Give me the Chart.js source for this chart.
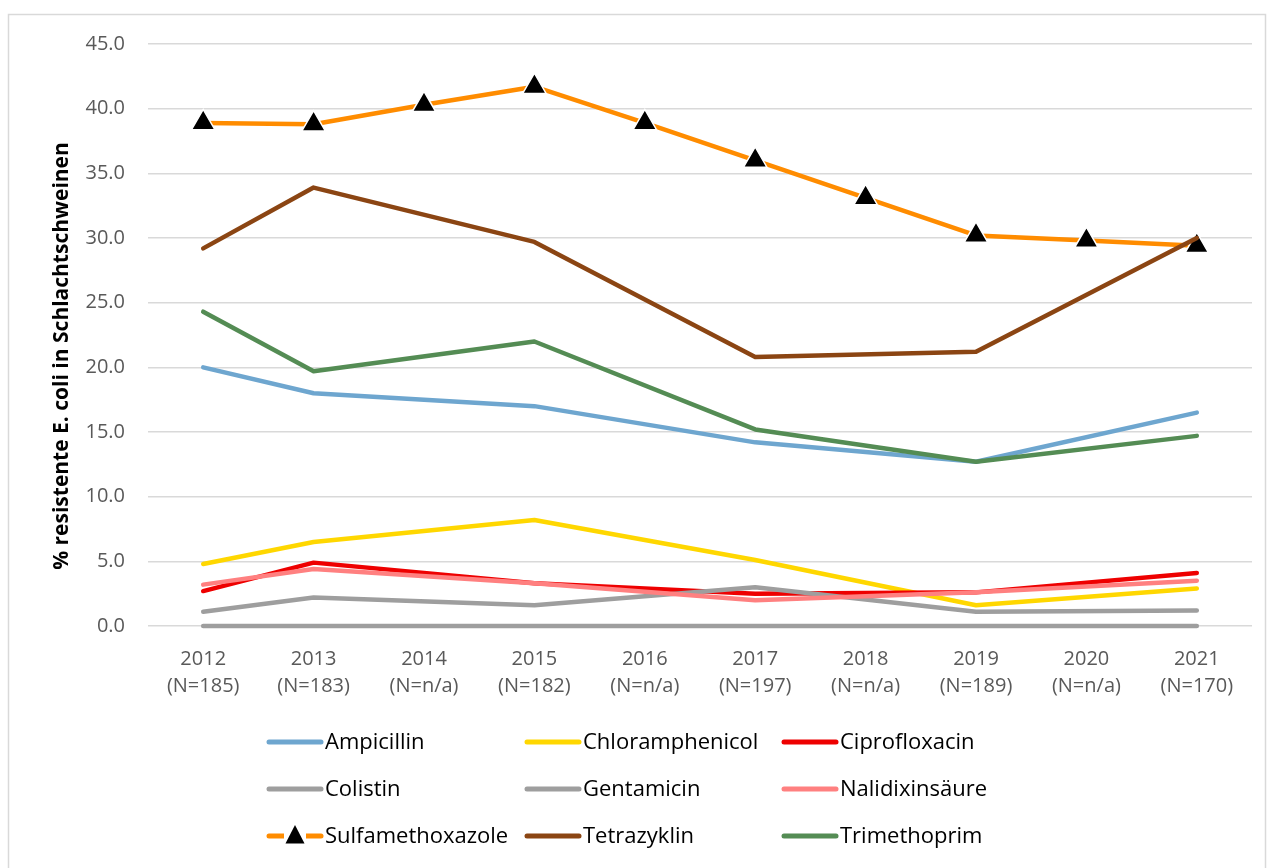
<!DOCTYPE html>
<html>
<head>
<meta charset="utf-8">
<script src="https://cdn.jsdelivr.net/npm/chart.js@4.4.1/dist/chart.umd.min.js"></script>
<style>
  html, body { margin: 0; padding: 0; background: #fff; }
  #wrap { position: relative; width: 1273px; height: 868px; }
  canvas { display: block; }
</style>
</head>
<body>
<div id="wrap"><canvas id="c" width="1273" height="868"></canvas></div>
<script>
// ---- Data ----
const years = ['2012', '2013', '2014', '2015', '2016', '2017', '2018', '2019', '2020', '2021'];
const sampleSizes = ['(N=185)', '(N=183)', '(N=n/a)', '(N=182)', '(N=n/a)', '(N=197)', '(N=n/a)', '(N=189)', '(N=n/a)', '(N=170)'];
const yTicks = [0, 5, 10, 15, 20, 25, 30, 35, 40, 45];
const yAxisTitle = '% resistente E. coli in Schlachtschweinen';

const seriesNames = ['Ampicillin', 'Chloramphenicol', 'Ciprofloxacin', 'Colistin', 'Gentamicin', 'Nalidixinsäure', 'Sulfamethoxazole', 'Tetrazyklin', 'Trimethoprim'];
const ampicillin      = [20.0, 18.0, null, 17.0, null, 14.2, null, 12.7, null, 16.5];
const chloramphenicol = [4.8, 6.5, null, 8.2, null, 5.1, null, 1.6, null, 2.9];
const ciprofloxacin   = [2.7, 4.9, null, 3.3, null, 2.5, null, 2.6, null, 4.1];
const colistin        = [0, 0, null, 0, null, 0, null, 0, null, 0];
const gentamicin      = [1.1, 2.2, null, 1.6, null, 3.0, null, 1.1, null, 1.2];
const nalidixinsaeure = [3.2, 4.4, null, 3.3, null, 2.0, null, 2.6, null, 3.5];
const sulfamethoxazole= [38.9, 38.8, 40.3, 41.7, 38.9, 36.0, 33.1, 30.2, 29.8, 29.4];
const tetrazyklin     = [29.2, 33.9, null, 29.7, null, 20.8, null, 21.2, null, 30.0];
const trimethoprim    = [24.3, 19.7, null, 22.0, null, 15.2, null, 12.7, null, 14.7];

const seriesValues = [ampicillin, chloramphenicol, ciprofloxacin, colistin, gentamicin, nalidixinsaeure, sulfamethoxazole, tetrazyklin, trimethoprim];
const seriesColors = ['#6EA6CF', '#FFD700', '#EE0000', '#9E9E9E', '#9E9E9E', '#FF8080', '#FF8C00', '#8B4513', '#548C54'];
const markerSeries = 'Sulfamethoxazole';

// ---- Build datasets ----
const datasets = seriesNames.map((name, i) => {
  const hasMarker = name === markerSeries;
  return {
    label: name,
    data: seriesValues[i],
    borderColor: seriesColors[i],
    backgroundColor: seriesColors[i],
    borderWidth: 4.5,
    borderCapStyle: 'round',
    borderJoinStyle: 'round',
    tension: 0,
    spanGaps: true,
    clip: 20,
    order: seriesNames.length - i,
    pointStyle: 'triangle',
    pointRadius: hasMarker ? 13.5 : 0,
    pointHoverRadius: hasMarker ? 13.5 : 0,
    pointBackgroundColor: '#000',
    pointBorderColor: '#fff',
    pointBorderWidth: hasMarker ? 1.5 : 0,
    hasMarker: hasMarker
  };
});

Chart.defaults.font.family = "'Open Sans', 'Liberation Sans', sans-serif";

const frameAndLegend = {
  id: 'frameAndLegend',
  beforeDraw(chart) {
    const ctx = chart.ctx;
    ctx.save();
    ctx.fillStyle = '#fff';
    ctx.fillRect(0, 0, chart.width, chart.height);
    ctx.strokeStyle = '#D9D9D9';
    ctx.lineWidth = 1.5;
    ctx.strokeRect(8.5, 14.5, 1257, 900);
    ctx.restore();
  },
  afterDraw(chart) {
    const ctx = chart.ctx;
    ctx.save();
    // Y axis title
    ctx.translate(62, 356);
    ctx.rotate(-Math.PI / 2);
    ctx.fillStyle = '#000';
    ctx.font = "bold 21px 'Open Sans', 'Liberation Sans', sans-serif";
    ctx.textAlign = 'center';
    ctx.textBaseline = 'middle';
    ctx.fillText(yAxisTitle, 0, 0);
    ctx.restore();

    // Legend in 3 columns
    const colX = [267, 525, 782];
    const rowY = [742, 789, 836];
    const lineLen = 54;
    ctx.save();
    chart.data.datasets.forEach((ds, i) => {
      const x = colX[i % 3];
      const y = rowY[Math.floor(i / 3)];
      ctx.strokeStyle = ds.borderColor;
      ctx.lineWidth = 5;
      ctx.lineCap = 'round';
      ctx.beginPath();
      ctx.moveTo(x + 2, y);
      ctx.lineTo(x + lineLen, y);
      ctx.stroke();
      if (ds.hasMarker) {
        const cx = x + lineLen / 2 + 1, r = 11;
        ctx.fillStyle = '#fff';
        ctx.fillRect(cx - 11, y - 11, 22, 20);
        ctx.fillStyle = '#000';
        ctx.beginPath();
        ctx.moveTo(cx, y - r);
        ctx.lineTo(cx + r * 0.866, y + r * 0.5 + 2);
        ctx.lineTo(cx - r * 0.866, y + r * 0.5 + 2);
        ctx.closePath();
        ctx.fill();
      }
      ctx.fillStyle = '#000';
      ctx.font = "22px 'Open Sans', 'Liberation Sans', sans-serif";
      ctx.textAlign = 'left';
      ctx.textBaseline = 'middle';
      ctx.fillText(ds.label, x + lineLen + 4, y + 1);
    });
    ctx.restore();
  }
};

new Chart(document.getElementById('c'), {
  type: 'line',
  data: {
    labels: years.map((y, i) => [y, sampleSizes[i]]),
    datasets: datasets
  },
  options: {
    responsive: false,
    animation: false,
    devicePixelRatio: 1,
    layout: { padding: { left: 50, right: 21, top: 44, bottom: 0 } },
    plugins: {
      legend: { display: false },
      tooltip: { enabled: false }
    },
    scales: {
      x: {
        type: 'category',
        offset: true,
        grid: { display: false, drawTicks: false },
        border: { display: false },
        ticks: {
          color: '#595959',
          font: { size: 20, lineHeight: 1.35 },
          padding: 20,
          maxRotation: 0,
          autoSkip: false
        },
        afterFit(scale) { scale.height = 868 - 626; }
      },
      y: {
        min: 0,
        max: 45,
        afterBuildTicks(scale) { scale.ticks = yTicks.map(v => ({ value: v })); },
        grid: { color: '#D9D9D9', lineWidth: 1.5, drawTicks: false },
        border: { display: false },
        ticks: {
          color: '#595959',
          font: { size: 20 },
          padding: 23,
          callback: v => Number(v).toFixed(1)
        },
        afterFit(scale) { scale.width = 98; }
      }
    }
  },
  plugins: [frameAndLegend]
});
</script>
</body>
</html>
